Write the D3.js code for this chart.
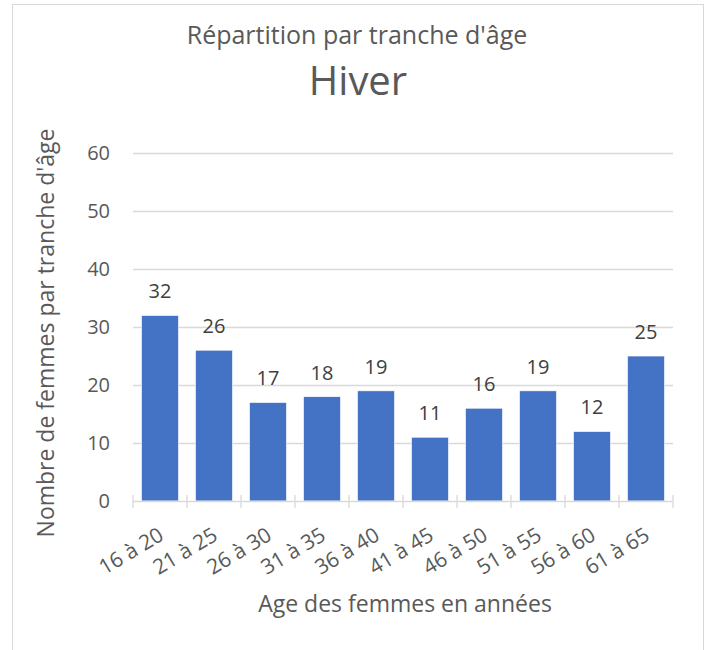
<!DOCTYPE html>
<html>
<head>
<meta charset="utf-8">
<script src="https://cdn.jsdelivr.net/npm/d3@7"></script>
<style>
  body { margin: 0; background: #fff; }
  text { font-family: "Open Sans", sans-serif; }
</style>
</head>
<body>
<div id="chart"></div>
<script>
const categories = ["16 à 20", "21 à 25", "26 à 30", "31 à 35", "36 à 40",
                    "41 à 45", "46 à 50", "51 à 55", "56 à 60", "61 à 65"];
const counts     = [32, 26, 17, 18, 19, 11, 16, 19, 12, 25];
const yTicks     = [0, 10, 20, 30, 40, 50, 60];

const W = 708, H = 650;
const plot = {left: 133, right: 673, top: 153, bottom: 501};

const svg = d3.select("#chart").append("svg")
    .attr("width", W)
    .attr("height", H);

// chart frame
svg.append("rect")
    .attr("x", 12.5).attr("y", 4.5)
    .attr("width", 691).attr("height", 660)
    .attr("fill", "#fff")
    .attr("stroke", "#d9d9d9");

const x = d3.scaleBand()
    .domain(categories)
    .range([plot.left, plot.right])
    .paddingInner(0.31)
    .paddingOuter(0.155);

const y = d3.scaleLinear()
    .domain([0, 60])
    .range([plot.bottom, plot.top]);

// gridlines
svg.append("g")
  .selectAll("line")
  .data(yTicks.filter(d => d > 0))
  .enter()
  .append("line")
    .attr("x1", plot.left).attr("x2", plot.right)
    .attr("y1", d => Math.round(y(d)) + 0.5)
    .attr("y2", d => Math.round(y(d)) + 0.5)
    .attr("stroke", "#d9d9d9")
    .attr("stroke-width", 1.3);

// y tick labels
svg.append("g")
  .selectAll("text")
  .data(yTicks)
  .enter()
  .append("text")
    .attr("x", 110)
    .attr("y", d => y(d))
    .attr("dy", "0.36em")
    .attr("text-anchor", "end")
    .attr("font-size", "20px")
    .attr("fill", "#595959")
    .text(d => d);

// bars
svg.append("g")
  .selectAll("rect")
  .data(counts)
  .enter()
  .append("rect")
    .attr("x", (d, i) => x(categories[i]))
    .attr("y", d => y(d))
    .attr("width", x.bandwidth())
    .attr("height", d => y(0) - y(d))
    .attr("fill", "#4472c4")
    .attr("stroke", "#fff")
    .attr("stroke-width", 0.7);

// value labels
svg.append("g")
  .selectAll("text")
  .data(counts)
  .enter()
  .append("text")
    .attr("x", (d, i) => x(categories[i]) + x.bandwidth() / 2)
    .attr("y", d => y(d) - 17)
    .attr("text-anchor", "middle")
    .attr("font-size", "20px")
    .attr("fill", "#404040")
    .text(d => d);

// x axis line and crossing ticks
const step = x.step();
const bounds = d3.range(categories.length + 1).map(i => plot.left + i * step);
svg.append("line")
    .attr("x1", plot.left).attr("x2", plot.right)
    .attr("y1", plot.bottom + 0.5).attr("y2", plot.bottom + 0.5)
    .attr("stroke", "#d9d9d9")
    .attr("stroke-width", 1.3);
svg.append("g")
  .selectAll("line")
  .data(bounds)
  .enter()
  .append("line")
    .attr("x1", d => d).attr("x2", d => d)
    .attr("y1", plot.bottom - 6).attr("y2", plot.bottom + 7)
    .attr("stroke", "#d9d9d9")
    .attr("stroke-width", 1.3);

// x tick labels (rotated)
svg.append("g")
  .selectAll("text")
  .data(categories)
  .enter()
  .append("text")
    .attr("transform", d => `translate(${x(d) + x.bandwidth() / 2 + 5},${plot.bottom + 38}) rotate(-31)`)
    .attr("text-anchor", "end")
    .attr("font-size", "21px")
    .attr("fill", "#595959")
    .text(d => d);

// titles
svg.append("text")
    .attr("x", 357).attr("y", 44)
    .attr("text-anchor", "middle")
    .attr("font-size", "25px")
    .attr("fill", "#595959")
    .text("Répartition par tranche d'âge");

svg.append("text")
    .attr("x", 358).attr("y", 95)
    .attr("text-anchor", "middle")
    .attr("font-size", "40px")
    .attr("fill", "#595959")
    .text("Hiver");

svg.append("text")
    .attr("x", 405).attr("y", 612)
    .attr("text-anchor", "middle")
    .attr("font-size", "23px")
    .attr("fill", "#595959")
    .text("Age des femmes en années");

svg.append("text")
    .attr("transform", `translate(54,333) rotate(-90)`)
    .attr("text-anchor", "middle")
    .attr("font-size", "23px")
    .attr("fill", "#595959")
    .text("Nombre de femmes par tranche d'âge");
</script>
</body>
</html>
